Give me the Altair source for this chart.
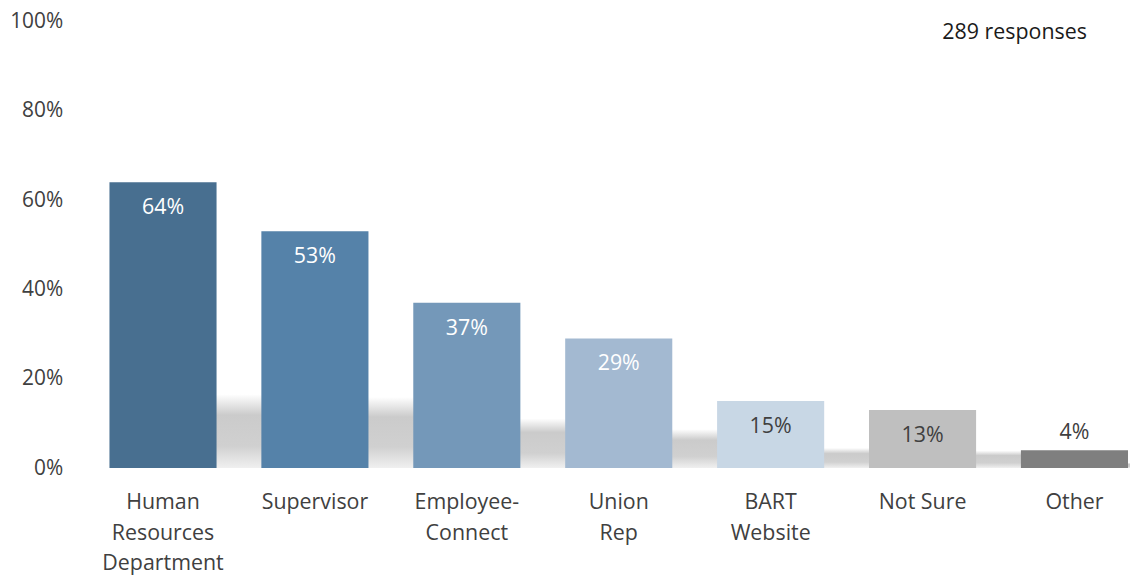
import altair as alt
import pandas as pd

categories = ["Human\nResources\nDepartment", "Supervisor", "Employee-\nConnect",
              "Union\nRep", "BART\nWebsite", "Not Sure", "Other"]
values = [64, 53, 37, 29, 15, 13, 4]
palette = ["#486f90", "#5582a9", "#7498b9", "#a3b9d1", "#c8d7e5", "#bfbfbf", "#7f7f7f"]
y_ticks = [0, 20, 40, 60, 80, 100]
note = ["289 responses"]

FONT = "Open Sans"
FS = 21.5
df = pd.DataFrame({"cat": categories, "value": values})

x_enc = alt.X("cat:N", sort=None, title=None,
              scale=alt.Scale(paddingInner=0.295, paddingOuter=0),
              axis=alt.Axis(labelExpr="split(datum.label, '\\n')", labelAngle=0,
                            labelFont=FONT, labelFontSize=FS, labelColor="#404040",
                            labelLineHeight=30.5, labelPadding=24, labelBaseline="top",
                            ticks=False, domain=False, grid=False))
y_scale = alt.Scale(domain=[0, 100])
y_axis = alt.Axis(values=y_ticks, labelExpr="datum.value + '%'",
                  labelFont=FONT, labelFontSize=21, labelColor="#404040",
                  labelPadding=47, labelBaseline="middle", labelBound=False,
                  ticks=False, domain=False, grid=False)

base = alt.Chart(df)

shadow = base.transform_calculate(sh="min(datum.value * 0.3, 16.5)").mark_bar(
    xOffset=46,
    fill=alt.Gradient(gradient="linear",
                      stops=[alt.GradientStop(offset=0, color="#ffffff"),
                             alt.GradientStop(offset=0.28, color="#cbcbcb"),
                             alt.GradientStop(offset=0.7, color="#d0d0d0"),
                             alt.GradientStop(offset=1, color="#f0f0f0")],
                      x1=0, y1=0, x2=0, y2=1),
).encode(x=x_enc, y=alt.Y("sh:Q", scale=y_scale, axis=y_axis, title=None))

bars = base.mark_bar().encode(
    x=x_enc,
    y=alt.Y("value:Q", scale=y_scale, title=None, axis=y_axis),
    color=alt.Color("cat:N", sort=None, legend=None,
                    scale=alt.Scale(domain=categories, range=palette)),
)

text_in = base.transform_filter("datum.value >= 10").transform_calculate(
    label="datum.value + '%'"
).mark_text(font=FONT, fontSize=FS, baseline="middle", dy=26).encode(
    x=x_enc,
    y=alt.Y("value:Q", scale=y_scale),
    text=alt.Text("label:N"),
    color=alt.condition("datum.value >= 20", alt.value("#ffffff"), alt.value("#404040")),
)

text_out = base.transform_filter("datum.value < 10").transform_calculate(
    label="datum.value + '%'"
).mark_text(font=FONT, fontSize=FS, baseline="middle", dy=-17, color="#404040").encode(
    x=x_enc,
    y=alt.Y("value:Q", scale=y_scale),
    text=alt.Text("label:N"),
)

note_text = alt.Chart(pd.DataFrame({"t": note})).mark_text(
    font=FONT, fontSize=FS, color="#1a1a1a", align="center", baseline="middle"
).encode(text="t:N", x=alt.value(910), y=alt.value(12))

chart = alt.layer(shadow, bars, text_in, text_out, note_text).properties(
    width=1024, height=449,
    autosize=alt.AutoSizeParams(type="none"),
    padding={"left": 102, "top": 12, "right": 2, "bottom": 108},
).configure(background="#ffffff").configure_view(stroke=None)

chart.save("out.html", embed_options={"renderer": "svg", "actions": False})
